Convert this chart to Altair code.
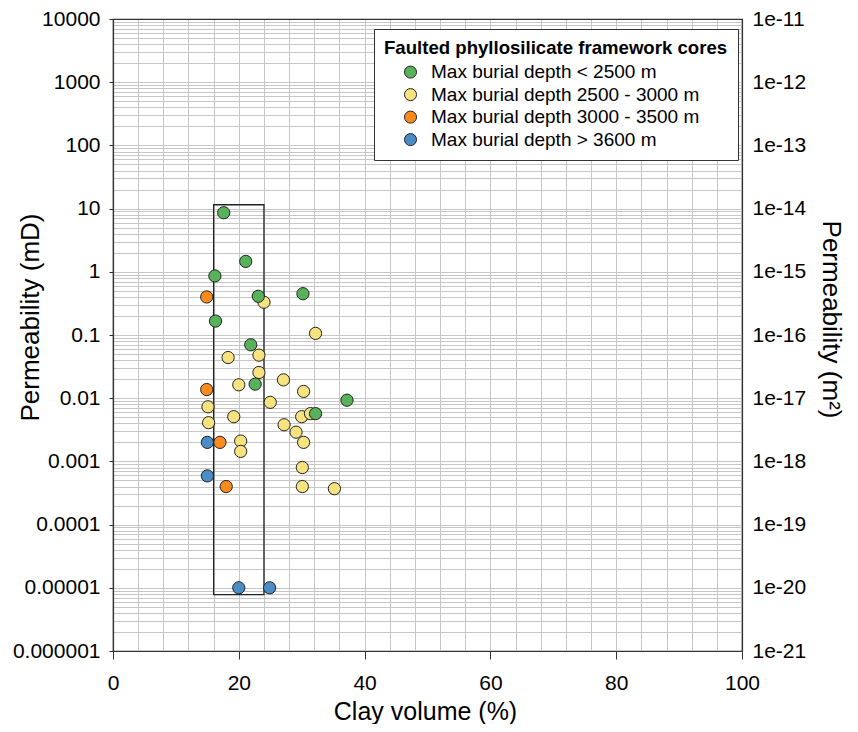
import altair as alt
import pandas as pd

# ---- data ----
group_labels = [
    "Max burial depth < 2500 m",
    "Max burial depth 2500 - 3000 m",
    "Max burial depth 3000 - 3500 m",
    "Max burial depth > 3600 m",
]
group_colors = ["#58b25a", "#f6e27f", "#fb8a1f", "#4a8cc6"]

green_clay = [17.6, 21.1, 16.2, 23.1, 30.2, 16.3, 21.9, 22.6, 37.2, 32.2]
green_perm = [8.6, 1.46, 0.86, 0.41, 0.45, 0.166, 0.070, 0.0167, 0.0093, 0.0057]

yellow_clay = [24.0, 32.2, 18.3, 23.2, 23.2, 20.0, 27.1, 30.3, 25.0, 15.1, 19.2,
               15.2, 27.2, 30.0, 31.4, 29.1, 30.3, 20.3, 20.3, 30.1, 30.1, 35.2]
yellow_perm = [0.33, 0.106, 0.044, 0.048, 0.0255, 0.0163, 0.0195, 0.0128, 0.0086,
               0.0073, 0.0051, 0.0041, 0.0038, 0.0051, 0.0057, 0.0029, 0.0020,
               0.0021, 0.00144, 0.0008, 0.0004, 0.00037]

orange_clay = [14.9, 14.9, 17.0, 18.0]
orange_perm = [0.40, 0.0137, 0.0020, 0.0004]

blue_clay = [15.0, 15.0, 20.0, 24.9]
blue_perm = [0.0020, 0.00059, 1.0e-5, 1.0e-5]

box_clay = [16.0]
box_clay2 = [24.0]
box_perm_top = [11.5]
box_perm_bottom = [7.8e-6]

x_tick_values = [0, 20, 40, 60, 80, 100]
x_grid_values = list(range(4, 100, 4))
y_decades = [10.0 ** e for e in range(-6, 5)]
y_minor = [m * 10.0 ** e for e in range(-6, 4) for m in range(1, 10)] + [1e4]

# ---- tables ----
rows = []
for lab, xs, ys in [
    (group_labels[1], yellow_clay, yellow_perm),
    (group_labels[3], blue_clay, blue_perm),
    (group_labels[2], orange_clay, orange_perm),
    (group_labels[0], green_clay, green_perm),
]:
    for xv, yv in zip(xs, ys):
        rows.append({"clay": xv, "perm": yv, "group": lab})
df = pd.DataFrame(rows)
box_df = pd.DataFrame({"x1": box_clay, "x2": box_clay2,
                       "y1": box_perm_top, "y2": box_perm_bottom})

FONT = "Liberation Sans, Arial, Helvetica, sans-serif"
DARK = "#333333"
GRID = "#c6c6c6"

xscale = alt.Scale(domain=[0, 100], nice=False, zero=False)
yscale = alt.Scale(type="log", domain=[1e-6, 1e4], nice=False)

x_axis = alt.Axis(
    orient="bottom", values=x_tick_values, grid=False, tickSize=8,
    tickColor=DARK, domainColor=DARK, domainWidth=1.2, labelPadding=13,
    labelFlush=False, labelFontSize=21, labelColor="#000", labelFont=FONT,
    title="Clay volume (%)", titleFontSize=25, titleFontWeight="normal",
    titleFont=FONT, titleColor="#000", titleX=312, titleY=48,
    titleBaseline="top",
)
y_axis = alt.Axis(
    orient="left", values=y_decades, format="~f", grid=False, tickSize=4,
    tickColor=DARK, domainColor=DARK, domainWidth=1.2, labelPadding=9,
    labelFontSize=21, labelColor="#000", labelFont=FONT, labelOverlap=False,
    title="Permeability (mD)", titleFontSize=26, titleFontWeight="normal",
    titleFont=FONT, titleColor="#000", titleAngle=270, titleX=-83, titleY=298,
    titleBaseline="middle", titleAlign="center",
)

box = alt.Chart(box_df).mark_rect(fillOpacity=0, stroke="#222222", strokeWidth=1.3).encode(
    x=alt.X("x1:Q", scale=xscale, axis=x_axis),
    x2="x2:Q",
    y=alt.Y("y1:Q", scale=yscale, axis=y_axis),
    y2="y2:Q",
)

points = alt.Chart(df).mark_circle(size=150, stroke="#222222", strokeWidth=1, opacity=1).encode(
    x=alt.X("clay:Q", scale=xscale, axis=x_axis),
    y=alt.Y("perm:Q", scale=yscale, axis=y_axis),
    color=alt.Color(
        "group:N",
        scale=alt.Scale(domain=group_labels, range=group_colors),
        legend=alt.Legend(
            title="Faulted phyllosilicate framework cores",
            orient="none", legendX=261, legendY=10,
            direction="vertical", columns=1,
            padding=10, rowPadding=2.5, titlePadding=5,
            strokeColor=DARK, fillColor="#ffffff",
            titleFontSize=18.6, titleFontWeight="bold", titleFont=FONT,
            titleColor="#000", titleLimit=600,
            labelFontSize=19, labelFont=FONT, labelColor="#000", labelLimit=600,
            labelOffset=11, symbolOffset=17,
            symbolType="circle", symbolSize=145,
            symbolStrokeColor="#222222", symbolStrokeWidth=1, symbolOpacity=1,
        ),
    ),
)

inner = alt.layer(box, points)

right_axis = alt.Axis(
    orient="right", values=y_minor, grid=True, gridColor=GRID, gridWidth=1,
    gridOpacity={"condition": {"test": "datum.value < 1.5e-6 || datum.value > 9000", "value": 0}, "value": 1},
    ticks=False, tickSize=0, domainColor=DARK, domainWidth=1.2,
    labelExpr="abs(log(datum.value)/LN10 - round(log(datum.value)/LN10)) < 0.001 ? '1e-' + (15 - round(log(datum.value)/LN10)) : ''",
    labelPadding=10, labelFontSize=21, labelColor="#000", labelFont=FONT,
    labelOverlap=False,
    title="Permeability (m²)", titleFontSize=26, titleFontWeight="normal",
    titleFont=FONT, titleColor="#000", titleAngle=90, titleX=88, titleY=300,
    titleBaseline="middle", titleAlign="center",
)
top_axis = alt.Axis(
    orient="top", values=x_grid_values, grid=True, gridColor=GRID, gridWidth=1,
    labels=False, ticks=False, domainColor=DARK, domainWidth=1.2, title=None,
)

grid_layer = alt.Chart(df).mark_point(opacity=0).encode(
    x=alt.X("clay:Q", scale=xscale, axis=top_axis),
    y=alt.Y("perm:Q", scale=alt.Scale(type="log", domain=[1e-6, 1e4], nice=False), axis=right_axis),
)

chart = (
    alt.layer(grid_layer, inner)
    .resolve_scale(y="independent")
    .resolve_axis(x="independent", y="independent")
    .properties(
        width=629, height=632,
        padding={"left": 105, "top": 11, "right": 108, "bottom": 73},
        autosize=alt.AutoSizeParams(type="none"),
        background="#ffffff",
    )
    .configure_view(stroke=DARK, strokeWidth=1.2)
)

chart.save("out.html", embed_options={"renderer": "svg", "actions": False})
